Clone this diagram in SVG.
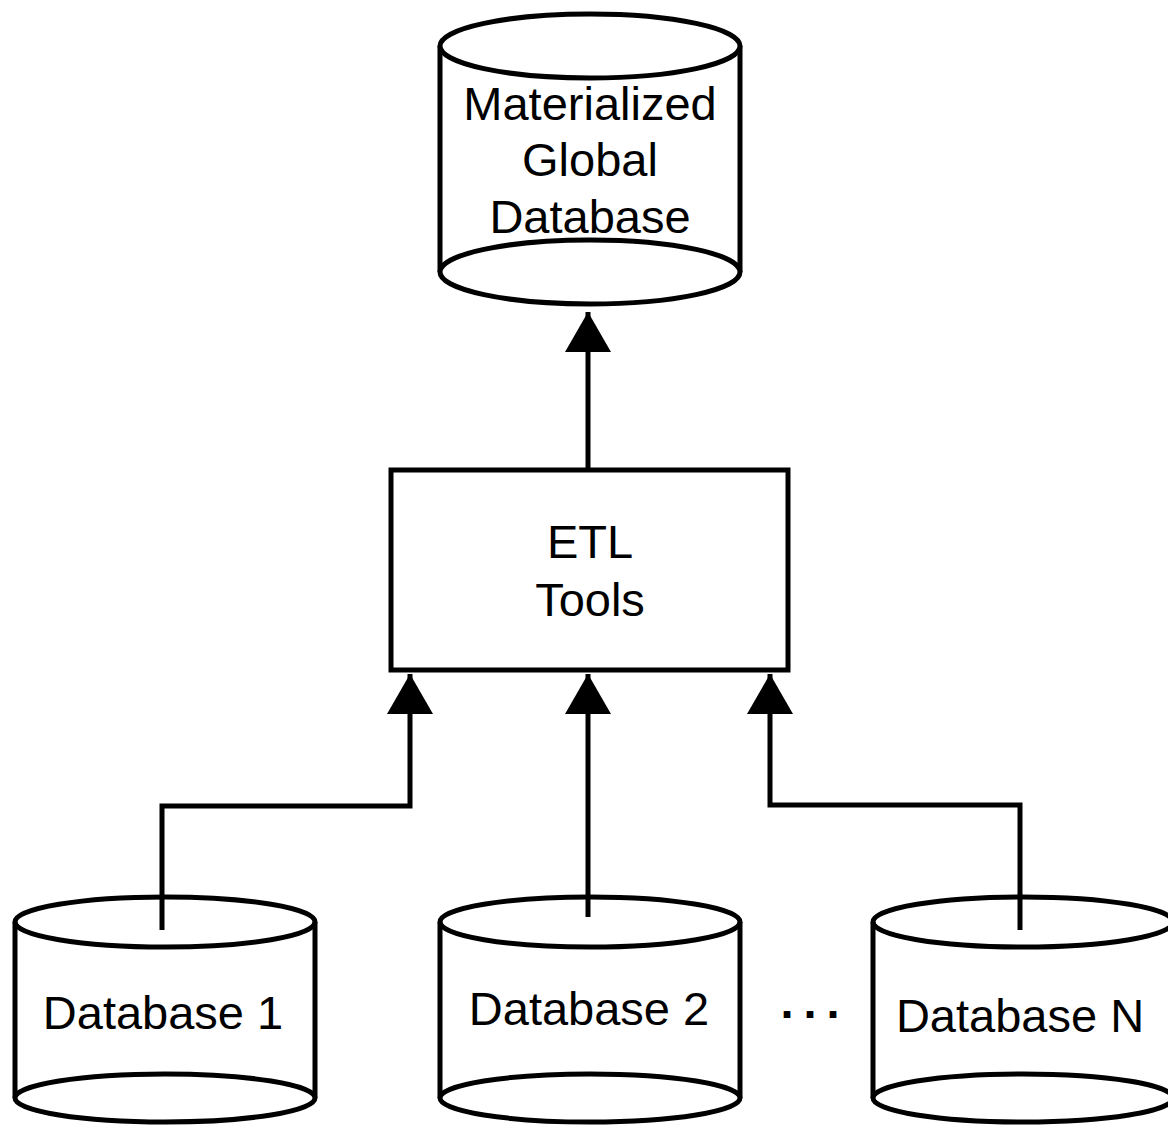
<svg xmlns="http://www.w3.org/2000/svg" width="1168" height="1127" viewBox="0 0 1168 1127">
  <style>
    .shape { fill: #ffffff; stroke: #000000; stroke-width: 5; }
    .rim { fill: none; stroke: #000000; stroke-width: 5; }
    .side { fill: none; stroke: #000000; stroke-width: 5; }
    .label { font-family: "Liberation Sans", Arial, sans-serif; font-size: 47px; fill: #000000; text-anchor: middle; }
    .wire { fill: none; stroke: #000000; stroke-width: 5; stroke-linejoin: miter; }
  </style>
  <defs>
    <marker id="arrow" markerUnits="userSpaceOnUse" markerWidth="40" markerHeight="46" viewBox="0 0 40 46" refX="40" refY="23" orient="auto">
      <path d="M0,0 L40,23 L0,46 Z" fill="#000000"/>
    </marker>
  </defs>

  <rect width="1168" height="1127" fill="#ffffff"/>

  <!-- materialized global database -->
  <g id="global-db">
    <rect x="440" y="46" width="300" height="226" fill="#ffffff"/>
    <path class="side" d="M440,46 L440,272 M740,46 L740,272"/>
    <ellipse class="shape" cx="590" cy="272" rx="150" ry="32"/>
    <ellipse class="shape" cx="590" cy="46" rx="150" ry="32"/>
    <text class="label" x="590" y="120">Materialized</text>
    <text class="label" x="590" y="176">Global</text>
    <text class="label" x="590" y="233">Database</text>
  </g>

  <!-- ETL tools -->
  <g id="etl">
    <rect class="shape" x="391" y="470" width="397" height="200" stroke-width="6"/>
    <text class="label" x="590" y="558">ETL</text>
    <text class="label" x="590" y="616">Tools</text>
  </g>

  <!-- source databases -->
  <g id="db1">
    <rect x="15" y="922" width="300" height="176" fill="#ffffff"/>
    <path class="side" d="M15,922 L15,1098 M315,922 L315,1098"/>
    <ellipse class="shape" cx="165" cy="1098" rx="150" ry="24"/>
    <ellipse class="rim" cx="165" cy="922" rx="150" ry="25"/>
    <text class="label" x="163" y="1029">Database 1</text>
  </g>

  <g id="db2">
    <rect x="440" y="922" width="300" height="176" fill="#ffffff"/>
    <path class="side" d="M440,922 L440,1098 M740,922 L740,1098"/>
    <ellipse class="shape" cx="590" cy="1098" rx="150" ry="24"/>
    <ellipse class="rim" cx="590" cy="922" rx="150" ry="25"/>
    <text class="label" x="589" y="1025">Database 2</text>
  </g>

  <g id="dbn">
    <rect x="873" y="922" width="300" height="176" fill="#ffffff"/>
    <path class="side" d="M873,922 L873,1098 M1173,922 L1173,1098"/>
    <ellipse class="shape" cx="1023" cy="1098" rx="150" ry="24"/>
    <ellipse class="rim" cx="1023" cy="922" rx="150" ry="25"/>
    <text class="label" x="1020" y="1032">Database N</text>
  </g>

  <g id="ellipsis">
    <text class="label" x="815" y="1018" font-size="34" font-weight="bold" letter-spacing="10">...</text>
  </g>

  <!-- connectors -->
  <g id="connectors">
    <path class="wire" d="M588,470 L588,312" marker-end="url(#arrow)"/>
    <path class="wire" d="M162,930 L162,806 L410,806 L410,674" marker-end="url(#arrow)"/>
    <path class="wire" d="M588,917 L588,674" marker-end="url(#arrow)"/>
    <path class="wire" d="M1020,930 L1020,805 L770,805 L770,674" marker-end="url(#arrow)"/>
  </g>
</svg>
